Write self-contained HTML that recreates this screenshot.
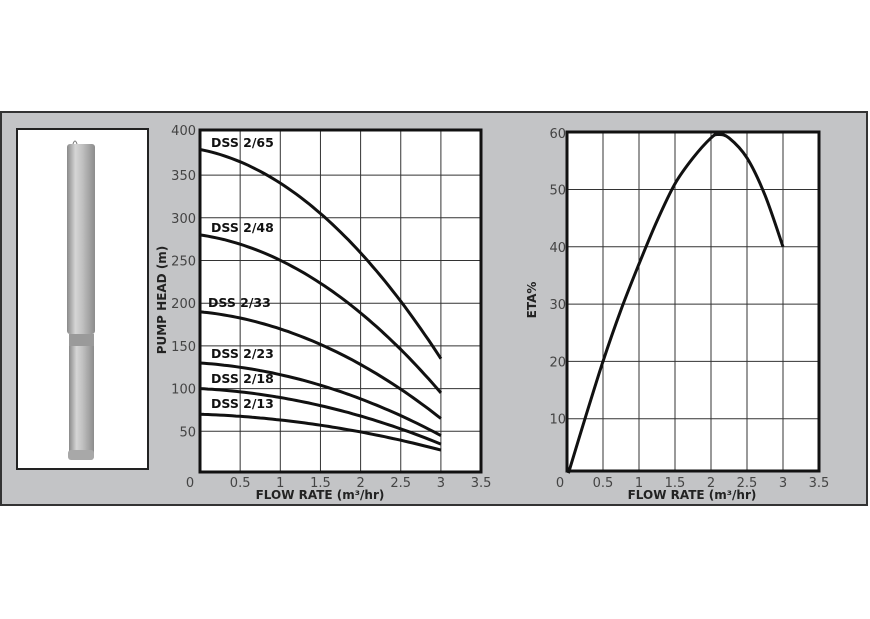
<!DOCTYPE html>
<html><head><meta charset="utf-8"><style>
html,body{margin:0;padding:0;background:#fff;width:870px;height:619px;overflow:hidden}
svg{display:block}
text{font-family:"DejaVu Sans","Liberation Sans",sans-serif}
</style></head><body>
<svg id="s" width="870" height="619" viewBox="0 0 870 619" xmlns="http://www.w3.org/2000/svg">
<defs>
<linearGradient id="pg" x1="0" x2="1" y1="0" y2="0">
<stop offset="0" stop-color="#8a8a8a"/><stop offset="0.3" stop-color="#d5d5d5"/><stop offset="0.55" stop-color="#c0c0c0"/><stop offset="1" stop-color="#8c8c8c"/>
</linearGradient>
</defs>
<rect x="1" y="112" width="866" height="393" fill="#c3c4c6" stroke="#333" stroke-width="2"/>
<rect x="17" y="129" width="131" height="340" fill="#fff" stroke="#222" stroke-width="2"/>
<rect x="67" y="144" width="28" height="190" rx="3" fill="url(#pg)"/>
<rect x="69" y="334" width="25" height="126" rx="4" fill="url(#pg)"/>
<rect x="69" y="334" width="25" height="12" fill="#9a9a9a"/>
<rect x="68" y="450" width="26" height="10" rx="3" fill="#a8a8a8"/>
<path d="M73 144 q2 -6 4 0" stroke="#777" fill="none"/>
<g id="g"></g>
</svg>
<script>
const g=document.getElementById('g');let h='';
const L={x0:200,y0:474,sx:80.3,sy:0.854};
const lx=v=>L.x0+v*L.sx, ly=v=>L.y0-v*L.sy;
h+=`<rect x="200" y="130" width="281" height="342" fill="#fff"/>`;
for(let i=1;i<7;i++)h+=`<line x1="${lx(i*0.5)}" y1="130" x2="${lx(i*0.5)}" y2="472" stroke="#333" stroke-width="1"/>`;
for(let v=50;v<=350;v+=50)h+=`<line x1="200" y1="${ly(v)}" x2="481" y2="${ly(v)}" stroke="#333" stroke-width="1"/>`;
h+=`<rect x="200" y="130" width="281" height="342" fill="none" stroke="#111" stroke-width="3"/>`;
for(let v=50;v<=400;v+=50)h+=`<text x="196" y="${(v==400?135:ly(v)+5)}" font-size="13" fill="#444" text-anchor="end">${v}</text>`;
[0.5,1,1.5,2,2.5,3,3.5].forEach(v=>h+=`<text x="${lx(v)}" y="487" font-size="13" fill="#444" text-anchor="middle">${v}</text>`);
h+=`<text x="190" y="487" font-size="13" fill="#444" text-anchor="middle">0</text>`;
h+=`<text x="320" y="499" font-size="12" font-weight="bold" fill="#222" text-anchor="middle">FLOW RATE (m³/hr)</text>`;
h+=`<text transform="translate(166,300) rotate(-90)" font-size="12" font-weight="bold" fill="#222" text-anchor="middle">PUMP HEAD (m)</text>`;
const curves=[[380,135],[280,95],[190,65],[130,45],[100,35],[70,28]];
curves.forEach(([a,e])=>{const d=a-e;let p='';for(let i=0;i<=60;i++){const q=3*i/60;const H=a-d*(0.224*q+0.776*q*q/3)/3;p+=(i?'L':'M')+lx(q).toFixed(1)+' '+ly(H).toFixed(1);}h+=`<path d="${p}" fill="none" stroke="#111" stroke-width="3"/>`;});
[['DSS 2/65',211,147],['DSS 2/48',211,232],['DSS 2/33',208,307],['DSS 2/23',211,358],['DSS 2/18',211,383],['DSS 2/13',211,408]].forEach(([t,x,y])=>h+=`<text x="${x}" y="${y}" font-size="12.5" font-weight="bold" fill="#111">${t}</text>`);
const R={x0:567,y0:476,sx:72,sy:5.73};
const rx=v=>R.x0+v*R.sx, ry=v=>R.y0-v*R.sy;
h+=`<rect x="567" y="132" width="252" height="339" fill="#fff"/>`;
for(let i=1;i<7;i++)h+=`<line x1="${rx(i*0.5)}" y1="132" x2="${rx(i*0.5)}" y2="471" stroke="#333" stroke-width="1"/>`;
for(let v=10;v<=50;v+=10)h+=`<line x1="567" y1="${ry(v)}" x2="819" y2="${ry(v)}" stroke="#333" stroke-width="1"/>`;
h+=`<rect x="567" y="132" width="252" height="339" fill="none" stroke="#111" stroke-width="3"/>`;
for(let v=10;v<=60;v+=10)h+=`<text x="566" y="${(v==60?138:ry(v)+5)}" font-size="13" fill="#444" text-anchor="end">${v}</text>`;
[0.5,1,1.5,2,2.5,3,3.5].forEach(v=>h+=`<text x="${rx(v)}" y="487" font-size="13" fill="#444" text-anchor="middle">${v}</text>`);
h+=`<text x="560" y="487" font-size="13" fill="#444" text-anchor="middle">0</text>`;
h+=`<text x="692" y="499" font-size="12" font-weight="bold" fill="#222" text-anchor="middle">FLOW RATE (m³/hr)</text>`;
h+=`<text transform="translate(536,300) rotate(-90)" font-size="12" font-weight="bold" fill="#222" text-anchor="middle">ETA%</text>`;
const ep=[[0.02,0.5],[0.25,10],[0.5,20],[0.75,29],[1,37],[1.25,44.5],[1.5,51],[1.75,55.5],[2,59],[2.1,59.6],[2.25,59],[2.5,55.5],[2.75,49],[3,40]];
let p='';
for(let i=0;i<ep.length;i++){const P=ep.map(([a,b])=>[rx(a),ry(b)]);if(i==0){p+=`M${P[0][0]} ${P[0][1]}`;continue;}
const p0=P[Math.max(i-2,0)],p1=P[i-1],p2=P[i],p3=P[Math.min(i+1,P.length-1)];
p+=`C${p1[0]+(p2[0]-p0[0])/6} ${p1[1]+(p2[1]-p0[1])/6} ${p2[0]-(p3[0]-p1[0])/6} ${p2[1]-(p3[1]-p1[1])/6} ${p2[0]} ${p2[1]}`;}
h+=`<path d="${p}" fill="none" stroke="#111" stroke-width="3"/>`;
g.innerHTML=h;
</script>
</body></html>
